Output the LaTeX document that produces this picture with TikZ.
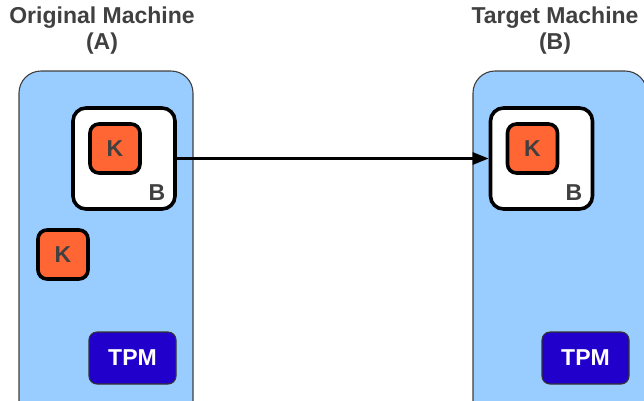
\documentclass[tikz,border=0pt]{standalone}
\usepackage{fontspec}
\setmainfont{Liberation Sans}
\usetikzlibrary{arrows.meta, positioning}
\definecolor{cmachine}{RGB}{153,204,255}
\definecolor{ckey}{RGB}{255,102,51}
\definecolor{ctpm}{RGB}{34,0,204}
\definecolor{ctext}{RGB}{64,64,64}

\begin{document}
\begin{tikzpicture}[
    x=1pt, y=-1pt,
    >={Triangle[length=16pt, width=12pt]},
    every node/.style={font=\fontsize{23}{26}\selectfont\bfseries, text=ctext},
    machine/.style={draw=ctext, line width=1.1pt, fill=cmachine, rounded corners=22pt,
        minimum width=174pt, minimum height=360pt},
    blob/.style={draw=black, line width=3.6pt, fill=white, rounded corners=13pt,
        minimum width=102pt, minimum height=101pt},
    key/.style={draw=black, line width=3.6pt, fill=ckey, rounded corners=9pt,
        minimum width=50pt, minimum height=49pt},
    tpm/.style={draw=black!80, line width=1.1pt, fill=ctpm, text=white, rounded corners=8pt,
        minimum width=87pt, minimum height=52pt},
]
    \clip (0,0) rectangle (644,400);

    % Titles
    \node[align=center] (titleA) at (102,31) {Original Machine\\(A)};
    \node[align=center] (titleB) at (555,31) {Target Machine\\(B)};

    % Original machine
    \node[machine] (machA) at (106,251) {};
    \node[blob] (blobA) at (124,158.5) {};
    \node[key] (keyA) at (115,148.5) {K};
    \node (labelA) at (157,193) {B};
    \node[key] (keyfree) at (63,254.5) {K};
    \node[tpm] (tpmA) at (132.5,358) {TPM};

    % Target machine
    \node[machine] (machB) at (560,251) {};
    \node[blob] (blobB) at (541.5,158.5) {};
    \node[key] (keyB) at (532.5,148.5) {K};
    \node (labelB) at (574,193) {B};
    \node[tpm] (tpmB) at (585.5,358) {TPM};

    % Migration
    \draw[->, line width=2.6pt] (blobA.east) -- (blobB.west);
\end{tikzpicture}
\end{document}
